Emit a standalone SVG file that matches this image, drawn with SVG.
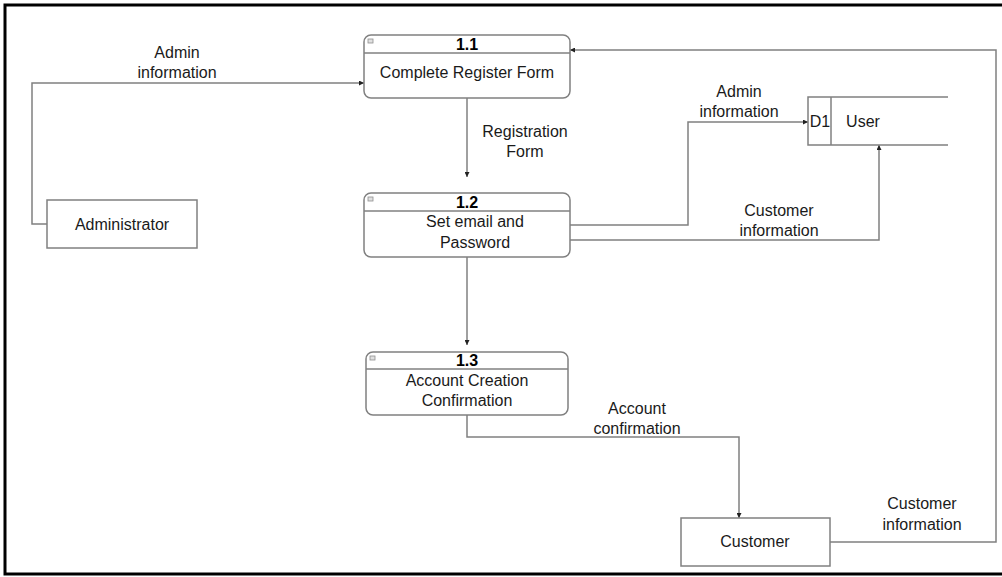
<svg xmlns="http://www.w3.org/2000/svg" width="1002" height="577" viewBox="0 0 1002 577">
<defs>
<style>
.t{font-family:"Liberation Sans",Arial,sans-serif;font-size:16px;fill:#1a1a1a;text-anchor:middle}
.h{font-family:"Liberation Sans",Arial,sans-serif;font-size:16px;font-weight:bold;fill:#000;text-anchor:middle}
.box{fill:#fff;stroke:#808080;stroke-width:1.5}
.ln{fill:none;stroke:#808080;stroke-width:1.5}
.c{fill:none;stroke:#808080;stroke-width:1.5;marker-end:url(#ah)}
.ic{fill:#e0e0e0;stroke:#909090;stroke-width:0.8}
</style>
<marker id="ah" viewBox="0 0 10 10" refX="10" refY="5" markerWidth="5" markerHeight="5" orient="auto" markerUnits="userSpaceOnUse">
<path d="M0,0 L10,5 L0,10 Z" fill="#222"/>
</marker>
</defs>
<rect x="0" y="0" width="1002" height="577" fill="#fff"/>
<rect x="5" y="5" width="1010" height="569" fill="none" stroke="#000" stroke-width="3"/>

<g id="connectors">
<polyline class="c" points="47,224 32,224 32,83 364,83"/>
<line class="c" x1="467" y1="98" x2="467" y2="177"/>
<line class="c" x1="467" y1="257" x2="467" y2="345"/>
<polyline class="c" points="570,225 688,225 688,122 808,122"/>
<polyline class="c" points="570,240 879,240 879,145"/>
<polyline class="c" points="467,415 467,437 739,437 739,518"/>
<polyline class="c" points="830,542 996,542 996,50 570,50"/>
<text class="t" x="177" y="58">Admin</text>
<text class="t" x="177" y="78">information</text>
<text class="t" x="525" y="137">Registration</text>
<text class="t" x="525" y="157">Form</text>
<text class="t" x="739" y="97">Admin</text>
<text class="t" x="739" y="117">information</text>
<text class="t" x="779" y="216">Customer</text>
<text class="t" x="779" y="236">information</text>
<text class="t" x="637" y="414">Account</text>
<text class="t" x="637" y="434">confirmation</text>
<text class="t" x="922" y="509">Customer</text>
<text class="t" x="922" y="530">information</text>
</g>

<g id="p1_1">
<rect class="box" x="364" y="35" width="206" height="63" rx="7"/>
<line class="ln" x1="364" y1="53" x2="570" y2="53"/>
<rect class="ic" x="368" y="39" width="5" height="4"/>
<text class="h" x="467" y="50">1.1</text>
<text class="t" x="467" y="78">Complete Register Form</text>
</g>

<g id="p1_2">
<rect class="box" x="364" y="193" width="206" height="64" rx="7"/>
<line class="ln" x1="364" y1="211" x2="570" y2="211"/>
<rect class="ic" x="368" y="197" width="5" height="4"/>
<text class="h" x="467" y="208">1.2</text>
<text class="t" x="475" y="227">Set email and</text>
<text class="t" x="475" y="248">Password</text>
</g>

<g id="p1_3">
<rect class="box" x="366" y="352" width="202" height="63" rx="7"/>
<line class="ln" x1="366" y1="369" x2="568" y2="369"/>
<rect class="ic" x="370" y="356" width="5" height="4"/>
<text class="h" x="467" y="366">1.3</text>
<text class="t" x="467" y="386">Account Creation</text>
<text class="t" x="467" y="406">Confirmation</text>
</g>

<g id="administrator">
<rect class="box" x="47" y="200" width="150" height="48"/>
<text class="t" x="122" y="230">Administrator</text>
</g>

<g id="customer">
<rect class="box" x="681" y="518" width="149" height="48"/>
<text class="t" x="755" y="547">Customer</text>
</g>

<g id="d1_user">
<polyline class="ln" points="948,97 808,97 808,145 948,145"/>
<line class="ln" x1="831" y1="97" x2="831" y2="145"/>
<text class="t" x="820" y="127">D1</text>
<text class="t" x="863" y="127">User</text>
</g>
</svg>
